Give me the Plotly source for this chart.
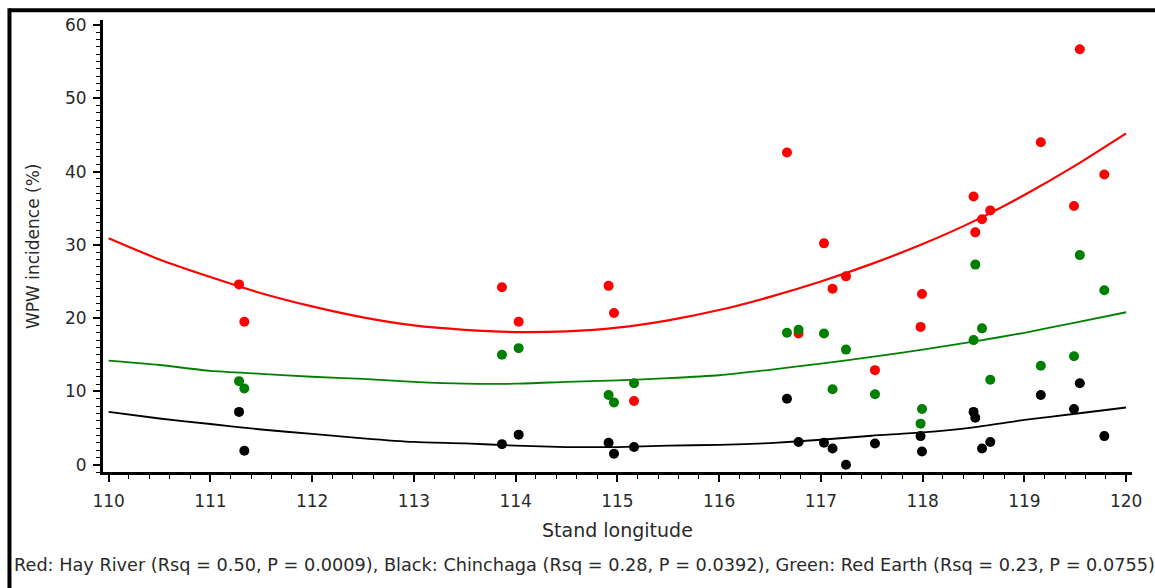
import plotly.graph_objects as go

# Stand longitudes (degrees W) shared by the three provenances
stand_longitude = [111.282, 111.334, 113.866, 114.030, 114.914, 114.967, 115.164,
                   116.667, 116.781, 117.031, 117.115, 117.247, 117.532, 117.980,
                   117.994, 118.501, 118.518, 118.584, 118.665, 119.162, 119.488,
                   119.545, 119.786]

# WPW incidence (%) per stand
hay_river = [24.6, 19.5, 24.2, 19.5, 24.4, 20.7, 8.7, 42.6, 17.9, 30.2, 24.0, 25.7,
             12.9, 18.8, 23.3, 36.6, 31.7, 33.5, 34.7, 44.0, 35.3, 56.7, 39.6]
red_earth = [11.4, 10.4, 15.0, 15.9, 9.5, 8.5, 11.1, 18.0, 18.4, 17.9, 10.3, 15.7,
             9.6, 5.6, 7.6, 17.0, 27.3, 18.6, 11.6, 13.5, 14.8, 28.6, 23.8]
chinchaga = [7.2, 1.9, 2.8, 4.1, 3.0, 1.5, 2.4, 9.0, 3.1, 3.0, 2.2, 0.0, 2.9, 3.9,
             1.8, 7.2, 6.4, 2.2, 3.1, 9.5, 7.6, 11.1, 3.9]

# Fitted regression curves
fit_longitude = [110.0, 110.5, 111.0, 111.5, 112.0, 112.5, 113.0, 113.5, 114.0, 114.5,
                 115.0, 115.5, 116.0, 116.5, 117.0, 117.5, 118.0, 118.5, 119.0, 119.5,
                 120.0]
hay_river_fit = [30.9, 28.0, 25.6, 23.4, 21.6, 20.1, 19.0, 18.4, 18.1, 18.2, 18.7, 19.7,
                 21.1, 22.9, 25.0, 27.4, 30.1, 33.2, 36.8, 40.8, 45.2]
red_earth_fit = [14.2, 13.6, 12.8, 12.4, 12.0, 11.7, 11.3, 11.05, 11.05, 11.3, 11.5, 11.8,
                 12.2, 12.95, 13.8, 14.7, 15.7, 16.8, 18.0, 19.4, 20.8]
chinchaga_fit = [7.2, 6.3, 5.55, 4.8, 4.2, 3.6, 3.1, 2.9, 2.6, 2.4, 2.4, 2.6, 2.7, 2.95,
                 3.4, 3.95, 4.4, 5.1, 6.1, 6.95, 7.8]

RED = "#ff0000"
GREEN = "#008000"
BLACK = "#000000"
FONT = "DejaVu Sans"
TEXT = "#2a2a2a"

fig = go.Figure()

for ys, col in [(hay_river, RED), (chinchaga, BLACK), (red_earth, GREEN)]:
    fig.add_trace(go.Scatter(x=stand_longitude, y=ys, mode="markers",
                             marker=dict(color=col, size=10, line=dict(width=0)),
                             showlegend=False, cliponaxis=False))

for ys, col, w in [(hay_river_fit, RED, 2.2), (red_earth_fit, GREEN, 1.8),
                   (chinchaga_fit, BLACK, 1.8)]:
    fig.add_trace(go.Scatter(x=fit_longitude, y=ys, mode="lines",
                             line=dict(color=col, width=w, shape="spline", smoothing=0.6),
                             showlegend=False))

axis_common = dict(showgrid=False, zeroline=False, showline=True, linecolor="black",
                   linewidth=3, ticks="outside", tickcolor="black", tickwidth=1.5,
                   ticklen=7, tickfont=dict(family=FONT, size=17, color=TEXT))

fig.update_xaxes(range=[109.945, 120.058], tickmode="linear", tick0=110, dtick=1,
                 minor=dict(dtick=0.2, ticks="outside", ticklen=4, tickcolor="black",
                            tickwidth=1),
                 ticklabelstandoff=5, **axis_common)
fig.update_yaxes(range=[-1.0, 60.68], tickmode="linear", tick0=0, dtick=10,
                 minor=dict(dtick=1, ticks="outside", ticklen=4, tickcolor="black",
                            tickwidth=1),
                 ticklabelstandoff=3, **axis_common)

ann_font = dict(family=FONT, color=TEXT)
fig.update_layout(
    width=1155, height=588,
    margin=dict(l=103, r=23, t=20, b=116),
    plot_bgcolor="white", paper_bgcolor="white",
    annotations=[
        dict(text="Stand longitude", xref="paper", yref="paper", x=0.5, y=-0.128,
             xanchor="center", yanchor="middle", showarrow=False,
             font=dict(size=19, **ann_font)),
        dict(text="WPW incidence (%)", xref="paper", yref="paper", x=-0.068, y=0.5,
             xanchor="center", yanchor="middle", textangle=-90, showarrow=False,
             font=dict(size=17, **ann_font)),
        dict(text="Red: Hay River (Rsq = 0.50, P = 0.0009), Black: Chinchaga "
                  "(Rsq = 0.28, P = 0.0392), Green: Red Earth (Rsq = 0.23, P = 0.0755)",
             xref="paper", yref="paper", x=-0.0885, y=-0.205,
             xanchor="left", yanchor="middle", showarrow=False,
             font=dict(size=17.7, **ann_font)),
    ],
    shapes=[
        # outer frame: top and left edges
        dict(type="line", xref="paper", yref="paper", x0=-0.0909, x1=1.03,
             y0=1.0214, y1=1.0214, line=dict(color="black", width=4)),
        dict(type="line", xref="paper", yref="paper", x0=-0.0909, x1=-0.0909,
             y0=1.0258, y1=-0.26, line=dict(color="black", width=4)),
    ],
)

fig.write_html("out.html")
